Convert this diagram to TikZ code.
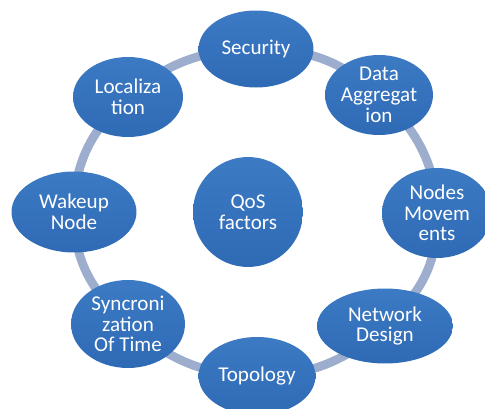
\documentclass[tikz,border=0pt]{standalone}
\usepackage{fontspec}
\newfontfamily\calibfont{Carlito}
\usetikzlibrary{shapes.geometric, backgrounds}
\definecolor{factorblue}{RGB}{47,106,181}
\definecolor{factortop}{RGB}{60,122,196}
\definecolor{ringgray}{RGB}{156,173,206}

\begin{document}
\begin{tikzpicture}[x=0.02cm, y=-0.02cm,
  factor/.style={ellipse, inner sep=0pt, top color=factortop, bottom color=factorblue,
    text=white, align=center, font=\calibfont\fontsize{12}{11.8}\selectfont}]
  \useasboundingbox (0,0) rectangle (485,409);
  \node[factor, minimum width=2.30cm, minimum height=1.54cm] (sec) at (256,49) {Security};
  \node[factor, minimum width=2.16cm, minimum height=1.60cm] (agg) at (379,95) {Data\\Aggregat\\ion};
  \node[factor, minimum width=2.20cm, minimum height=1.80cm] (mov) at (437,213) {Nodes\\Movem\\ents};
  \node[factor, minimum width=2.72cm, minimum height=1.50cm] (net) at (385,326) {Network\\Design};
  \node[factor, minimum width=2.34cm, minimum height=1.56cm] (top) at (257,376) {Topology};
  \node[factor, minimum width=2.28cm, minimum height=1.76cm] (syn) at (128,324) {Syncroni\\zation\\Of Time};
  \node[factor, minimum width=2.50cm, minimum height=1.62cm] (wak) at (74,212) {Wakeup\\Node};
  \node[factor, minimum width=2.20cm, minimum height=1.60cm] (loc) at (128,97) {Localiza\\tion};
  \node[factor, minimum width=2.20cm, minimum height=2.20cm] (qos) at (248,212) {QoS\\factors};
  \begin{pgfonlayer}{background}
    \draw[ringgray, line width=5pt] plot[smooth cycle, tension=0.75] coordinates
      {(sec.center) (agg.center) (mov.center) (net.center) (top.center) (syn.center) (wak.center) (loc.center)};
  \end{pgfonlayer}
\end{tikzpicture}
\end{document}
